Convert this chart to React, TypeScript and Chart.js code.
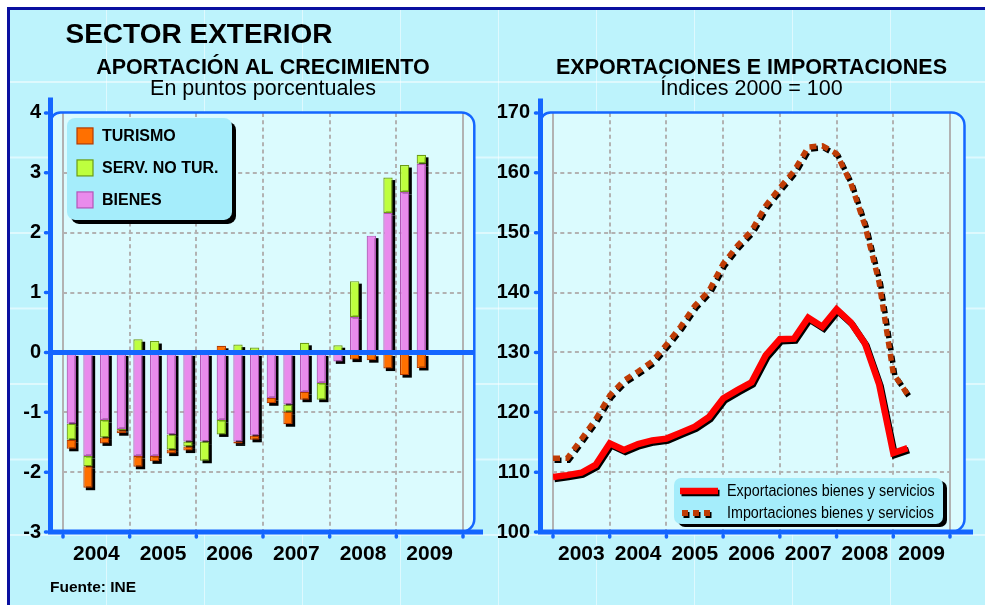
import React, { useEffect, useRef } from 'react';
import { Chart, registerables } from 'chart.js';

Chart.register(...registerables);

const FONT = '"Liberation Sans", Arial, Helvetica, sans-serif';
const BLUE = '#1466ff';
const NAVY = '#0a10a0';
const GRAY = '#b2b2b2';
const INNER_BG = '#dbfbfe';
const OUTER_BG = '#bdf3fc';
const LEGEND_BG = '#a5edfb';
const CLEAR = 'rgba(0,0,0,0)';

// ---------- Left chart: Aportación al crecimiento ----------
const mainTitle = 'SECTOR EXTERIOR';
const sourceNote = 'Fuente: INE';
const barTitle = 'APORTACIÓN AL CRECIMIENTO';
const barSubtitle = 'En puntos porcentuales';
const barYearLabels = ['2004', '2005', '2006', '2007', '2008', '2009'];
const barPeriods = [
  '2004-1', '2004-2', '2004-3', '2004-4',
  '2005-1', '2005-2', '2005-3', '2005-4',
  '2006-1', '2006-2', '2006-3', '2006-4',
  '2007-1', '2007-2', '2007-3', '2007-4',
  '2008-1', '2008-2', '2008-3', '2008-4',
  '2009-1', '2009-2',
];
const bienes = [
  -1.19, -1.73, -1.13, -1.28,
  -1.73, -1.73, -1.37, -1.49,
  -1.49, -1.13, -1.49, -1.39,
  -0.76, -0.87, -0.66, -0.51,
  -0.15, 0.59, 1.95, 2.33,
  2.68, 3.15,
];
const servNoTur = [
  -0.27, -0.17, -0.29, -0.02,
  0.22, 0.19, -0.25, -0.08,
  -0.32, -0.24, 0.13, 0.08,
  0, -0.12, 0.16, -0.28,
  0.12, 0.6, -0.03, 0.59,
  0.45, 0.15,
];
const turismo = [
  -0.15, -0.36, -0.1, -0.05,
  -0.18, -0.09, -0.07, -0.07,
  0, 0.11, -0.03, -0.07,
  -0.09, -0.21, -0.13, 0,
  0, -0.12, -0.1, -0.27,
  -0.38, -0.26,
];

// ---------- Right chart: Exportaciones e importaciones ----------
const lineTitle = 'EXPORTACIONES E IMPORTACIONES';
const lineSubtitle = 'Índices 2000 = 100';
const lineYearLabels = ['2003', '2004', '2005', '2006', '2007', '2008', '2009'];
const linePeriods = [
  '2003-1', '2003-2', '2003-3', '2003-4',
  '2004-1', '2004-2', '2004-3', '2004-4',
  '2005-1', '2005-2', '2005-3', '2005-4',
  '2006-1', '2006-2', '2006-3', '2006-4',
  '2007-1', '2007-2', '2007-3', '2007-4',
  '2008-1', '2008-2', '2008-3', '2008-4',
  '2009-1', '2009-2',
];
const exportaciones = [
  109.2, 109.5, 109.9, 111.2,
  114.8, 113.7, 114.7, 115.3,
  115.6, 116.6, 117.6, 119.2,
  122.3, 123.7, 125.0, 129.5,
  132.2, 132.3, 135.8, 134.3,
  137.2, 135.0, 131.5, 124.7,
  113.2, 114.0,
];
const importaciones = [
  112.3, 112.3, 115.5, 118.8,
  122.8, 125.3, 126.8, 128.5,
  131.3, 134.3, 137.8, 140.3,
  144.8, 147.8, 150.3, 154.5,
  157.5, 160.3, 164.3, 164.5,
  163.2, 158.3, 151.2, 141.7,
  126.5, 123.0,
];

const periodYear = (p: string) => Number(p.slice(0, 4));
const periodQuarter = (p: string) => Number(p.slice(5));
const barX = (p: string) => periodYear(p) + (periodQuarter(p) - 0.5) / 4;
const lineX = (p: string) => periodYear(p) + (periodQuarter(p) - 1) / 4;

function roundRectPath(ctx: CanvasRenderingContext2D, x: number, y: number, w: number, h: number, r: number) {
  ctx.beginPath();
  ctx.moveTo(x + r, y);
  ctx.arcTo(x + w, y, x + w, y + h, r);
  ctx.arcTo(x + w, y + h, x, y + h, r);
  ctx.arcTo(x, y + h, x, y, r);
  ctx.arcTo(x, y, x + w, y, r);
  ctx.closePath();
}

type FrameOpts = {
  axisGap: number;
  rightExt: number;
  bottomExt: number;
  topExt: number;
  zeroLine: boolean;
  barShadows: boolean;
  lineShadows: boolean;
  legend: (chart: any) => void;
};

function framePlugin(o: FrameOpts) {
  const edges = (chart: any) => {
    const a = chart.chartArea;
    return { a, L: a.left - o.axisGap, T: a.top - 0.5, R: a.right + o.rightExt, B: a.bottom };
  };
  return {
    id: 'frameDeco',
    beforeDraw(chart: any) {
      const ctx = chart.ctx;
      const { L, T, R, B } = edges(chart);
      ctx.save();
      ctx.fillStyle = INNER_BG;
      ctx.beginPath();
      ctx.moveTo(L, B);
      ctx.lineTo(L, T + 10);
      ctx.arcTo(L, T, L + 10, T, 10);
      ctx.lineTo(R - 13, T);
      ctx.arcTo(R, T, R, T + 13, 13);
      ctx.lineTo(R, B - 13);
      ctx.arcTo(R, B, R - 13, B, 13);
      ctx.closePath();
      ctx.fill();
      ctx.restore();
    },
    beforeDatasetsDraw(chart: any) {
      const ctx = chart.ctx;
      const { a } = edges(chart);
      ctx.save();
      ctx.strokeStyle = GRAY;
      ctx.lineWidth = 2;
      ctx.beginPath();
      const xs = chart.scales.x;
      const xl = xs.getPixelForValue(xs.min);
      const xr = xs.getPixelForValue(xs.max);
      ctx.moveTo(xl, a.top);
      ctx.lineTo(xl, a.bottom);
      ctx.moveTo(xr, a.top);
      ctx.lineTo(xr, a.bottom);
      ctx.stroke();
      if (o.barShadows) {
        ctx.fillStyle = '#000';
        chart.data.datasets.forEach((_: any, di: number) => {
          const meta = chart.getDatasetMeta(di);
          meta.data.forEach((el: any) => {
            const { x, y, base, width } = el.getProps(['x', 'y', 'base', 'width'], true);
            const top = Math.min(y, base);
            const h = Math.abs(y - base);
            if (h < 0.5) return;
            ctx.fillRect(x - width / 2 + 2.5, top + 2.5, width, h);
          });
        });
      }
      ctx.restore();
    },
    beforeDatasetDraw(chart: any) {
      if (!o.lineShadows) return;
      const ctx = chart.ctx;
      ctx.save();
      ctx.shadowColor = '#000';
      ctx.shadowOffsetX = 1.5;
      ctx.shadowOffsetY = 2;
      ctx.shadowBlur = 0;
    },
    afterDatasetDraw(chart: any) {
      if (!o.lineShadows) return;
      chart.ctx.restore();
    },
    afterDatasetsDraw(chart: any) {
      const ctx = chart.ctx;
      const { a, L, T, R, B } = edges(chart);
      ctx.save();
      ctx.strokeStyle = BLUE;
      ctx.lineCap = 'butt';
      if (o.zeroLine) {
        const y0 = chart.scales.y.getPixelForValue(0);
        ctx.lineWidth = 5;
        ctx.beginPath();
        ctx.moveTo(L, y0);
        ctx.lineTo(R, y0);
        ctx.stroke();
      }
      ctx.lineWidth = 2.5;
      ctx.beginPath();
      ctx.moveTo(L, T + 10);
      ctx.arcTo(L, T, L + 10, T, 10);
      ctx.lineTo(R - 13, T);
      ctx.arcTo(R, T, R, T + 13, 13);
      ctx.lineTo(R, B - 13);
      ctx.arcTo(R, B, R - 13, B, 13);
      ctx.stroke();
      ctx.lineWidth = 5;
      ctx.beginPath();
      ctx.moveTo(L, T - o.topExt);
      ctx.lineTo(L, B + 2.5);
      ctx.moveTo(L - 2.5, B);
      ctx.lineTo(a.right + o.bottomExt, B);
      ctx.stroke();
      ctx.lineWidth = 3.5;
      ctx.lineCap = 'round';
      ctx.beginPath();
      const ys = chart.scales.y;
      for (const t of ys.ticks) {
        const py = ys.getPixelForValue(t.value);
        ctx.moveTo(L - 5, py);
        ctx.lineTo(L - 3.5, py);
      }
      const xs = chart.scales.x;
      for (const t of xs.ticks) {
        const px = xs.getPixelForValue(t.value);
        ctx.moveTo(px, B + 3.5);
        ctx.lineTo(px, B + 5);
      }
      ctx.stroke();
      ctx.restore();
      o.legend(chart);
    },
  };
}

function drawBarLegend(chart: any) {
  const ctx = chart.ctx;
  const a = chart.chartArea;
  const bx = a.left + 4, by = a.top + 5, bw = 165, bh = 102;
  ctx.save();
  ctx.fillStyle = '#000';
  roundRectPath(ctx, bx + 4, by + 4, bw, bh, 8);
  ctx.fill();
  ctx.fillStyle = LEGEND_BG;
  roundRectPath(ctx, bx, by, bw, bh, 8);
  ctx.fill();
  const ds = chart.data.datasets.slice().reverse();
  ds.forEach((d: any, i: number) => {
    const cy = by + 18 + i * 32;
    ctx.fillStyle = d.backgroundColor;
    ctx.fillRect(bx + 10, cy - 8, 16, 16);
    ctx.strokeStyle = d.borderColor;
    ctx.lineWidth = 1.2;
    ctx.strokeRect(bx + 10, cy - 8, 16, 16);
    ctx.fillStyle = '#000';
    ctx.font = `bold 16px ${FONT}`;
    ctx.textBaseline = 'middle';
    ctx.textAlign = 'left';
    ctx.fillText(d.label, bx + 35, cy + 0.5);
  });
  ctx.restore();
}

function drawLineLegend(chart: any) {
  const ctx = chart.ctx;
  const a = chart.chartArea;
  const bw = 269, bh = 46;
  const bx = a.right - 7 - bw, by = a.bottom - 8 - bh;
  ctx.save();
  ctx.fillStyle = '#000';
  roundRectPath(ctx, bx + 4, by + 3, bw, bh, 7);
  ctx.fill();
  ctx.fillStyle = LEGEND_BG;
  roundRectPath(ctx, bx, by, bw, bh, 7);
  ctx.fill();
  const ds = chart.data.datasets;
  ds.forEach((d: any, i: number) => {
    const cy = by + 13 + i * 22;
    ctx.save();
    ctx.shadowColor = '#000';
    ctx.shadowOffsetX = 1.5;
    ctx.shadowOffsetY = 2;
    ctx.strokeStyle = d.borderColor;
    ctx.lineCap = 'butt';
    ctx.beginPath();
    if (d.borderDash && d.borderDash.length) {
      ctx.lineWidth = 6;
      ctx.setLineDash([6, 5]);
      ctx.moveTo(bx + 8, cy);
      ctx.lineTo(bx + 36, cy);
    } else {
      ctx.lineWidth = 6.5;
      ctx.moveTo(bx + 6, cy);
      ctx.lineTo(bx + 44, cy);
    }
    ctx.stroke();
    ctx.restore();
    ctx.save();
    ctx.fillStyle = '#000';
    ctx.font = `16px ${FONT}`;
    ctx.textBaseline = 'middle';
    ctx.textAlign = 'left';
    ctx.translate(bx + 53, cy + 0.5);
    ctx.scale(0.895, 1);
    ctx.fillText(d.label, 0, 0);
    ctx.restore();
  });
  ctx.restore();
}

const titleFont = { family: FONT, size: 21.5, weight: 'bold' as const, lineHeight: 0.95 };
const subtitleFont = { family: FONT, size: 21.5, weight: 'normal' as const, lineHeight: 1 };
const yTickFont = { family: FONT, size: 20, weight: 'bold' as const };
const xTickFont = { family: FONT, size: 21, weight: 'bold' as const };

function edgeClear(minV: number, maxV: number, extra?: number) {
  return (c: any) => {
    const v = c && c.tick ? c.tick.value : NaN;
    if (v === minV || v === maxV || v === extra) return CLEAR;
    return GRAY;
  };
}

function barConfig(): any {
  const mk = (label: string, values: number[], bg: string, border: string) => ({
    label,
    data: barPeriods.map((p, i) => ({ x: barX(p), y: values[i] })),
    backgroundColor: bg,
    borderColor: border,
    borderWidth: 1.2,
    borderSkipped: false,
    barPercentage: 0.56,
    categoryPercentage: 1,
  });
  const xMin = Number(barYearLabels[0]);
  const xMax = xMin + barYearLabels.length;
  return {
    type: 'bar',
    data: {
      datasets: [
        mk('BIENES', bienes, '#e98bec', '#b356b8'),
        mk('SERV. NO TUR.', servNoTur, '#beff3e', '#6c9c16'),
        mk('TURISMO', turismo, '#ff7000', '#b43a00'),
      ],
    },
    options: {
      responsive: false,
      animation: false,
      events: [],
      layout: { padding: { top: 58, right: 27, left: 0, bottom: 0 } },
      plugins: {
        legend: { display: false },
        tooltip: { enabled: false },
        title: { display: true, text: barTitle, fullSize: false, color: '#000', font: titleFont, padding: { top: 0, bottom: 0 } },
        subtitle: { display: true, text: barSubtitle, fullSize: false, color: '#000', font: subtitleFont, padding: { top: 0, bottom: 13 } },
      },
      scales: {
        x: {
          type: 'linear',
          min: xMin,
          max: xMax,
          stacked: true,
          offset: false,
          afterFit: (s: any) => { s.height = 73; },
          grid: { color: edgeClear(xMin, xMax), lineWidth: 2, drawTicks: false, offset: false },
          border: { display: false, dash: [4, 3.3] },
          ticks: {
            stepSize: 1,
            autoSkip: false,
            maxRotation: 0,
            padding: 10,
            labelOffset: (463 - 63) / barYearLabels.length / 2,
            color: '#000',
            font: xTickFont,
            callback: (v: number) => barYearLabels[Math.round(v) - xMin] ?? '',
          },
        },
        y: {
          min: -3,
          max: 4,
          stacked: true,
          afterFit: (s: any) => { s.width = 63; },
          grid: { color: edgeClear(-3, 4, 0), lineWidth: 2, drawTicks: false },
          border: { display: false, dash: [4, 3.3] },
          ticks: { stepSize: 1, padding: 22, color: '#000', font: yTickFont, callback: (v: number) => String(v) },
        },
      },
    },
    plugins: [
      framePlugin({ axisGap: 12.5, rightExt: 11.3, bottomExt: 20, topExt: 15, zeroLine: true, barShadows: true, lineShadows: false, legend: drawBarLegend }),
    ],
  };
}

function lineConfig(): any {
  const xMin = Number(lineYearLabels[0]);
  const xMax = xMin + lineYearLabels.length;
  return {
    type: 'line',
    data: {
      datasets: [
        {
          label: 'Exportaciones bienes y servicios',
          data: linePeriods.map((p, i) => ({ x: lineX(p), y: exportaciones[i] })),
          borderColor: '#ff0000',
          borderWidth: 6.5,
          pointRadius: 0,
          tension: 0,
          fill: false,
        },
        {
          label: 'Importaciones bienes y servicios',
          data: linePeriods.map((p, i) => ({ x: lineX(p), y: importaciones[i] })),
          borderColor: '#bf3c06',
          borderWidth: 5.5,
          borderDash: [7, 5.5],
          borderCapStyle: 'butt',
          pointRadius: 0,
          tension: 0,
          fill: false,
        },
      ],
    },
    options: {
      responsive: false,
      animation: false,
      events: [],
      layout: { padding: { top: 58, right: 35, left: 0, bottom: 0 } },
      plugins: {
        legend: { display: false },
        tooltip: { enabled: false },
        title: { display: true, text: lineTitle, fullSize: false, color: '#000', font: titleFont, padding: { top: 0, bottom: 0 } },
        subtitle: { display: true, text: lineSubtitle, fullSize: false, color: '#000', font: subtitleFont, padding: { top: 0, bottom: 13 } },
      },
      scales: {
        x: {
          type: 'linear',
          min: xMin,
          max: xMax,
          offset: false,
          afterFit: (s: any) => { s.height = 73; },
          grid: { color: edgeClear(xMin, xMax), lineWidth: 2, drawTicks: false },
          border: { display: false, dash: [4, 3.3] },
          ticks: {
            stepSize: 1,
            autoSkip: false,
            maxRotation: 0,
            padding: 10,
            labelOffset: (460 - 63) / lineYearLabels.length / 2,
            color: '#000',
            font: xTickFont,
            callback: (v: number) => lineYearLabels[Math.round(v) - xMin] ?? '',
          },
        },
        y: {
          min: 100,
          max: 170,
          afterFit: (s: any) => { s.width = 63; },
          grid: { color: edgeClear(100, 170), lineWidth: 2, drawTicks: false },
          border: { display: false, dash: [4, 3.3] },
          ticks: { stepSize: 10, padding: 23, color: '#000', font: yTickFont, callback: (v: number) => String(v) },
        },
      },
    },
    plugins: [
      framePlugin({ axisGap: 12.5, rightExt: 14.5, bottomExt: 23, topExt: 14, zeroLine: false, barShadows: false, lineShadows: true, legend: drawLineLegend }),
    ],
  };
}

export default function App() {
  const leftRef = useRef<HTMLCanvasElement>(null);
  const rightRef = useRef<HTMLCanvasElement>(null);

  useEffect(() => {
    const c1 = new Chart(leftRef.current as HTMLCanvasElement, barConfig());
    const c2 = new Chart(rightRef.current as HTMLCanvasElement, lineConfig());
    return () => {
      c1.destroy();
      c2.destroy();
    };
  }, []);

  return (
    <div style={{ position: 'fixed', left: 0, top: 0, width: 985, height: 605, background: '#fff', overflow: 'hidden' }}>
      <div
        style={{
          position: 'absolute',
          left: 7,
          top: 7,
          right: 0,
          bottom: 0,
          borderTop: `3.5px solid ${NAVY}`,
          borderLeft: `3.5px solid ${NAVY}`,
          backgroundColor: OUTER_BG,
          backgroundImage:
            'linear-gradient(to right, rgba(255,255,255,0.5) 1.5px, transparent 1.5px), linear-gradient(to bottom, rgba(255,255,255,0.5) 1.5px, transparent 1.5px)',
          backgroundSize: '98px 75.5px',
          backgroundPosition: '96px 71px',
        }}
      />
      <canvas
        ref={leftRef}
        width={490}
        height={605}
        style={{ position: 'absolute', left: 0, top: 0, width: 490, height: 605, display: 'block' }}
      />
      <canvas
        ref={rightRef}
        width={495}
        height={605}
        style={{ position: 'absolute', left: 490, top: 0, width: 495, height: 605, display: 'block' }}
      />
      <div
        style={{
          position: 'absolute',
          left: 65.5,
          top: 19.5,
          fontFamily: FONT,
          fontWeight: 'bold',
          fontSize: 28,
          lineHeight: '28px',
          color: '#000',
          whiteSpace: 'nowrap',
        }}
      >
        {mainTitle}
      </div>
      <div
        style={{
          position: 'absolute',
          left: 50,
          top: 578.5,
          fontFamily: FONT,
          fontWeight: 'bold',
          fontSize: 15.5,
          lineHeight: '15.5px',
          color: '#000',
          whiteSpace: 'nowrap',
        }}
      >
        {sourceNote}
      </div>
    </div>
  );
}
